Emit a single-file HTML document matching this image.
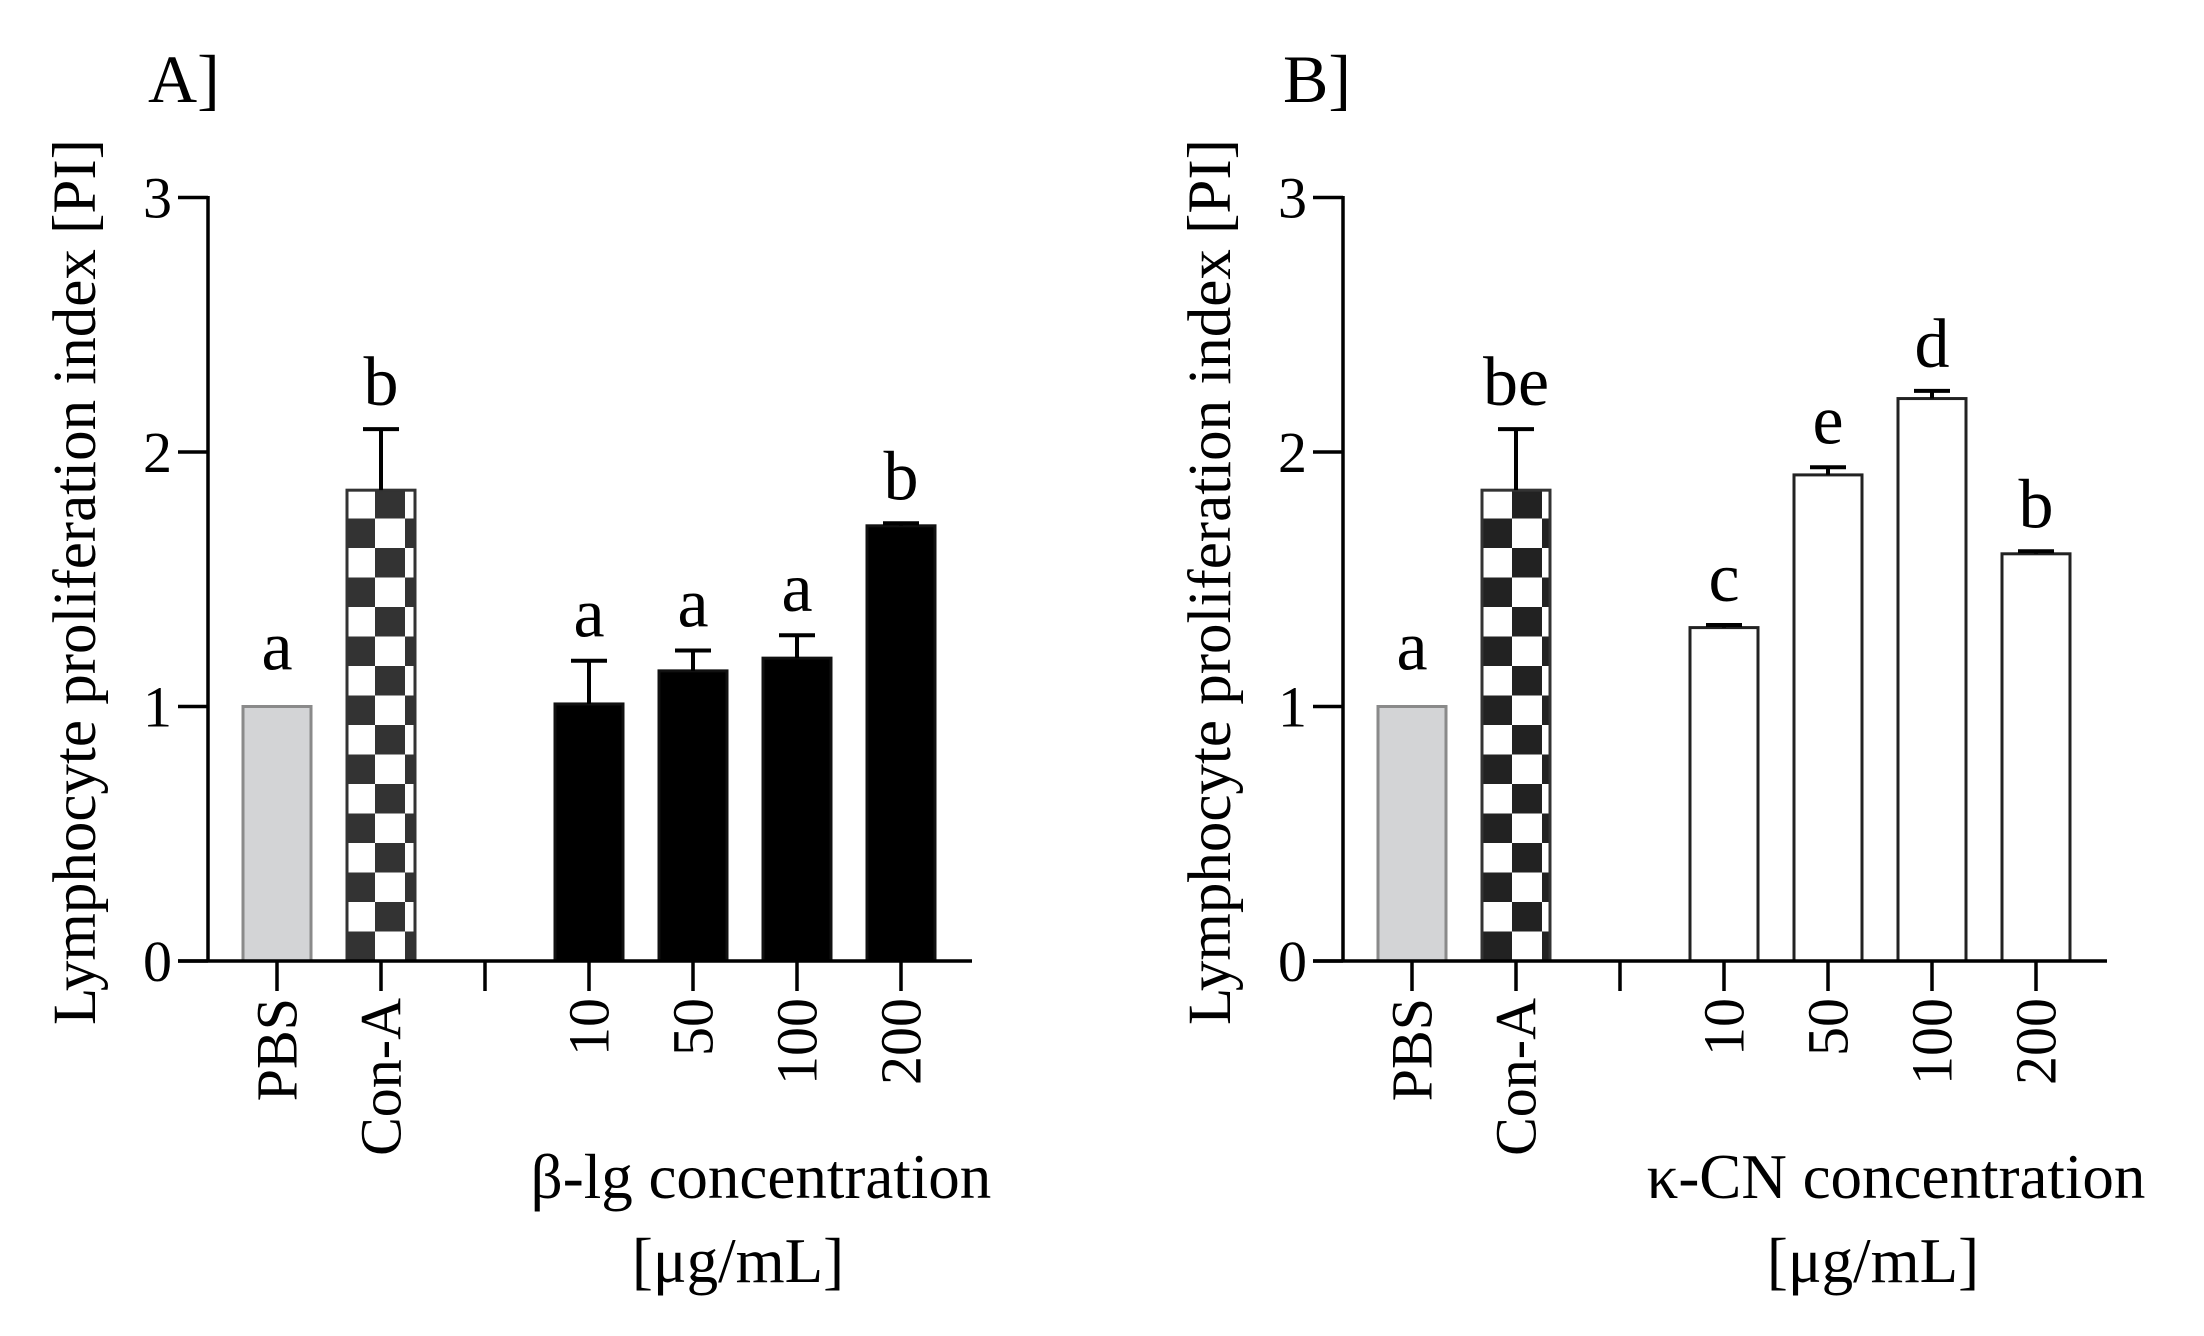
<!DOCTYPE html>
<html><head><meta charset="utf-8"><style>
html,body{margin:0;padding:0;background:#fff;}
svg{display:block;}
text{font-family:"Liberation Serif",serif;fill:#000;}
</style></head><body>
<svg id="chart" width="2204" height="1336" viewBox="0 0 2204 1336" xmlns="http://www.w3.org/2000/svg">
<defs>
<pattern id="checkA" patternUnits="userSpaceOnUse" x="345" y="961" width="60" height="59">
<rect x="0" y="0" width="60" height="59" fill="#fff"/>
<rect x="0" y="29.5" width="30" height="29.5" fill="#333"/>
<rect x="30" y="0" width="30" height="29.5" fill="#333"/>
</pattern>
<pattern id="checkB" patternUnits="userSpaceOnUse" x="1482" y="961" width="60" height="59">
<rect x="0" y="0" width="60" height="59" fill="#fff"/>
<rect x="0" y="29.5" width="30" height="29.5" fill="#222"/>
<rect x="30" y="0" width="30" height="29.5" fill="#222"/>
</pattern>
</defs>
<g id="panelA"></g>
<g id="panelB"></g>
</svg>
<script>
const categories = ["PBS","Con-A","10","50","100","200"];
const yTicks = [0,1,2,3];
const valuesA = [1.00,1.85,1.01,1.14,1.19,1.71];
const errorsA = [1.00,2.09,1.18,1.22,1.28,1.72];
const lettersA = ["a","b","a","a","a","b"];
const valuesB = [1.00,1.85,1.31,1.91,2.21,1.60];
const errorsB = [1.00,2.09,1.32,1.94,2.24,1.61];
const lettersB = ["a","be","c","e","d","b"];

const NS="http://www.w3.org/2000/svg";
function mk(parent,tag,attrs,txt){const e=document.createElementNS(NS,tag);for(const k in attrs)e.setAttribute(k,attrs[k]);if(txt!==undefined)e.textContent=txt;parent.appendChild(e);return e;}

function drawPanel(g,axisX,vals,errs,letters,concFill,concStroke,checkId,panelLabel,xTitle){
  const y0=961, unit=254.5, slot=104, first=69, bw=68, axisEnd=axisX+764;
  const yS=v=>y0-v*unit;
  const slotIdx=[0,1,3,4,5,6];
  const xS=i=>axisX+first+slotIdx[i]*slot;
  // panel label
  let t=mk(g,'text',{x:axisX-60,y:102,'font-size':68});t.textContent=panelLabel;
  
  
  // y title
  t=mk(g,'text',{transform:`translate(${axisX-113},582) rotate(-90)`,'text-anchor':'middle','font-size':61});
  t.textContent="Lymphocyte proliferation index [PI]";
  
  
  // bars
  vals.forEach((v,i)=>{
    const cx=xS(i);
    let fill,stroke;
    if(i===0){fill='#d3d4d6';stroke='#8a8a8a';}
    else if(i===1){fill=`url(#${checkId})`;stroke='#333';}
    else {fill=concFill;stroke=concStroke;}
    const b=mk(g,'rect',{x:cx-bw/2,y:yS(v),width:bw,height:y0-yS(v),fill:fill,stroke:stroke,'stroke-width':3});
    
    
    if(errs[i]>v+0.005){
      const e=mk(g,'path',{d:`M${cx},${yS(v)} V${yS(errs[i])} M${cx-18},${yS(errs[i])} H${cx+18}`,stroke:'#000','stroke-width':4,fill:'none'});
      
      
    }
    const top=Math.max(v,errs[i]);
    const l=mk(g,'text',{x:cx,y:yS(top)-(i===0?37:24),'text-anchor':'middle','font-size':70});
    l.textContent=letters[i];
    
    
    // x tick and label
    const tk=mk(g,'line',{x1:cx,y1:y0,x2:cx,y2:y0+30,stroke:'#000','stroke-width':3.5});
    
    
    const xl=mk(g,'text',{transform:`translate(${cx},${y0+37}) rotate(-90)`,'text-anchor':'end','dominant-baseline':'central','font-size':58});
    xl.textContent=categories[i];
    
    
  });
  // gap tick
  const gx=axisX+first+2*slot;
  const gt=mk(g,'line',{x1:gx,y1:y0,x2:gx,y2:y0+30,stroke:'#000','stroke-width':3.5});
  
  
  // axes
  const ya=mk(g,'line',{x1:axisX,y1:yS(3)-1.5,x2:axisX,y2:y0,stroke:'#000','stroke-width':3.5});
  
  
  const xa=mk(g,'line',{x1:axisX-30,y1:y0,x2:axisEnd,y2:y0,stroke:'#000','stroke-width':3.5});
  
  
  yTicks.forEach(v=>{
    const l=mk(g,'line',{x1:axisX-30,y1:yS(v),x2:axisX,y2:yS(v),stroke:'#000','stroke-width':3.5});
    
    
    const tl=mk(g,'text',{x:axisX-36,y:yS(v)+20,'text-anchor':'end','font-size':58});
    tl.textContent=String(v);
    
    
  });
  // x title
  const cxT=axisX+553;
  const x1=mk(g,'text',{x:cxT,y:1198,'text-anchor':'middle','font-size':63});
  x1.textContent=xTitle;
  
  
  const x2=mk(g,'text',{x:cxT-23,y:1282,'text-anchor':'middle','font-size':63});
  x2.textContent="[μg/mL]";
  
  
}
drawPanel(document.getElementById('panelA'),208,valuesA,errorsA,lettersA,'#000','#111','checkA','A]','β-lg concentration');
drawPanel(document.getElementById('panelB'),1343,valuesB,errorsB,lettersB,'#fff','#222','checkB','B]','κ-CN concentration');
</script>
</body></html>
